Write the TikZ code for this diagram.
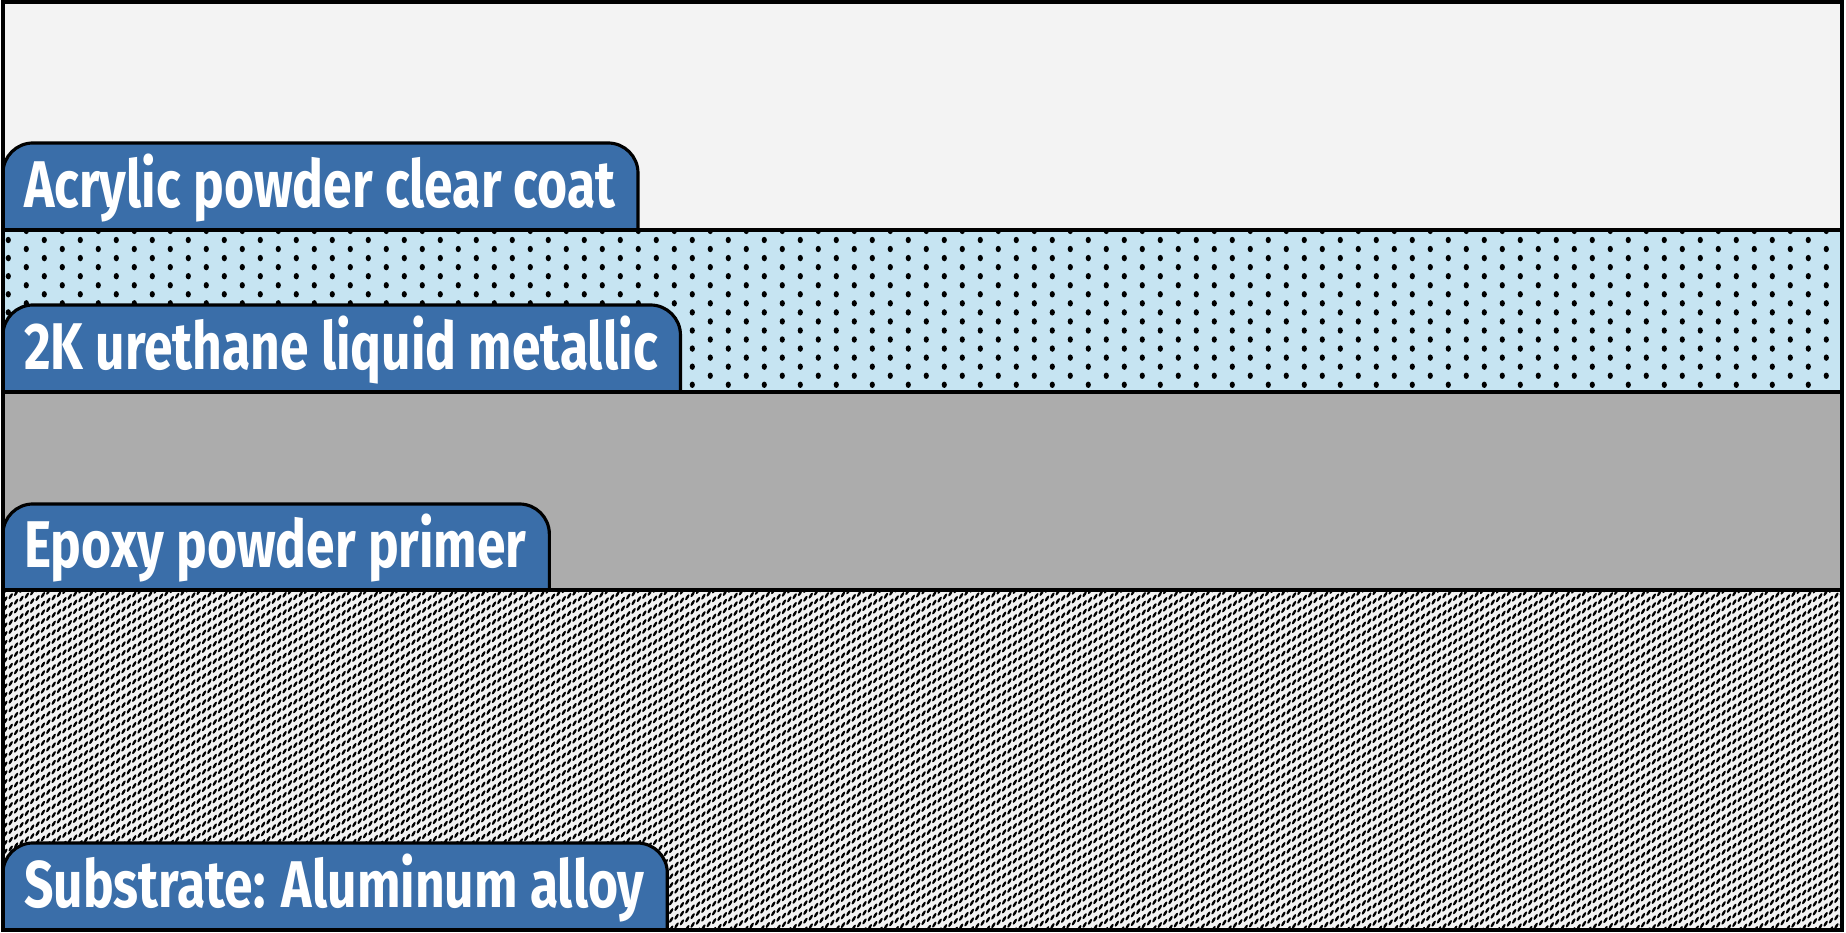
\documentclass[tikz,border=0pt]{standalone}
\usepackage{fontspec}
\newfontfamily\tabfont{Fira Sans}[FakeStretch=0.78]
\usetikzlibrary{backgrounds,patterns.meta}
\definecolor{coatgray}{HTML}{F3F3F3}
\definecolor{metalblue}{HTML}{C6E4F2}
\definecolor{primergray}{HTML}{ACACAC}
\definecolor{alloywhite}{HTML}{F2F2F2}
\definecolor{tabblue}{HTML}{3A6EA9}

% slanted grain of the aluminium
\tikzdeclarepattern{
  name=alloygrain,
  type=uncolored,
  bounding box={(-0.035,-0.035) and (0.035,0.035)},
  tile size={(0.0537,0.087)},
  tile transformation={yslant=0.577},
  code={\fill[rotate=50] (0,0) ellipse [x radius=0.026, y radius=0.017];}
}

\begin{document}
\begin{tikzpicture}[
  tabtext/.style={anchor=base west, inner sep=0pt, text=white,
    font={\tabfont\bfseries\fontsize{18.8}{21}\selectfont}},
  tabbox/.style={fill=tabblue, draw=black, line width=0.9pt, rounded corners=0.3cm},
  layerline/.style={line width=1.1pt},
]
\useasboundingbox (0,0) rectangle (18.46,9.33);

\begin{pgfonlayer}{background}
% layers
\fill[coatgray] (0.03,7.03) rectangle (18.42,9.31);
\fill[metalblue] (0.03,5.41) rectangle (18.42,7.03);
\fill[primergray] (0.03,3.43) rectangle (18.42,5.41);
\fill[alloywhite] (0.03,0.03) rectangle (18.42,3.43);
\fill[pattern=alloygrain, pattern color=black] (0.03,0.03) rectangle (18.42,3.43);
% metallic flakes
\begin{scope}
\clip (0.03,5.41) rectangle (18.42,7.03);
\foreach \r in {-1,...,16} {
  \pgfmathsetmacro\yy{6.93-0.0905*\r}
  \pgfmathsetmacro\xo{mod(\r,2)==0 ? 0.083 : 0.263}
  \foreach \k in {0,...,51}
    \fill (\xo+0.36*\k,\yy) ellipse [x radius=0.026, y radius=0.032];
}
\end{scope}
\end{pgfonlayer}

% labels
\foreach \name/\yb/\yt/\txt in {coat/7.03/7.90/Acrylic powder clear coat,
    metallic/5.41/6.28/2K urethane liquid metallic,
    primer/3.43/4.29/Epoxy powder primer,
    alloy/0.03/0.90/Substrate: Aluminum alloy} {
  \node[tabtext] (\name) at (0.235,\yb+0.22) {\txt};
  \path (\name.east) ++(0.22,0) coordinate (\name-r);
  \coordinate (\name-top) at (0.03,\yt);
  \coordinate (\name-bot) at (0.03,\yb);
  \begin{pgfonlayer}{background}
  \filldraw[tabbox] (\name-bot) -- (\name-top) -- (\name-r |- \name-top) -- (\name-r |- \name-bot);
  \end{pgfonlayer}
}

% layer boundaries
\foreach \y in {7.03,5.41,3.43}
  \draw[layerline] (0.03,\y) -- (18.42,\y);
\draw[line width=1.3pt] (0.03,0.03) rectangle (18.42,9.31);
\end{tikzpicture}
\end{document}
